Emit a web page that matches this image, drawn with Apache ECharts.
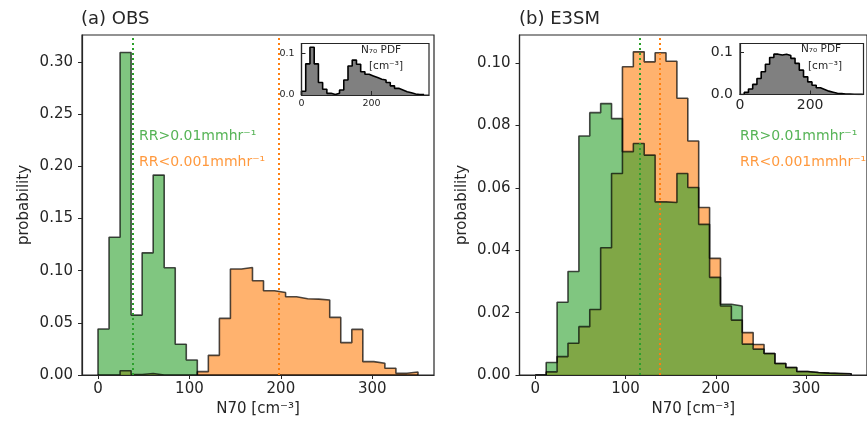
<!DOCTYPE html>
<html>
<head>
<meta charset="utf-8">
<script src="https://cdn.jsdelivr.net/npm/echarts@6/dist/echarts.min.js"></script>
<style>
  html, body { margin: 0; padding: 0; background: #fff; }
  #chart { width: 867px; height: 430px; }
</style>
</head>
<body>
<div id="chart"></div>
<script>
// bin edges shared by every histogram (29 bins, 0..350 cm-3)
var binEdges = [0, 12.07, 24.14, 36.21, 48.28, 60.34, 72.41, 84.48, 96.55, 108.62,
                120.69, 132.76, 144.83, 156.9, 168.97, 181.03, 193.1, 205.17, 217.24, 229.31,
                241.38, 253.45, 265.52, 277.59, 289.66, 301.72, 313.79, 325.86, 337.93, 350];

// (a) OBS
var obsRain = [0.044, 0.132, 0.309, 0.0574, 0.117, 0.1915, 0.1027, 0.0294, 0.0144, 0,
               0, 0, 0, 0, 0, 0, 0, 0, 0, 0,
               0, 0, 0, 0, 0, 0, 0, 0, 0];
var obsDry = [0, 0, 0.004, 0.0005, 0.0015, 0, 0, 0, 0, 0.0032,
              0.0188, 0.0542, 0.1015, 0.103, 0.0903, 0.0807, 0.0791, 0.075, 0.0731, 0.0727,
              0.0718, 0.0552, 0.031, 0.0437, 0.0128, 0.0112, 0.0064, 0.0016, 0.0029];
var obsAll = [0.009, 0.075, 0.115, 0.075, 0.03, 0.014, 0.004, 0.001, 0.004, 0.012,
              0.036, 0.07, 0.084, 0.074, 0.056, 0.05, 0.046, 0.042, 0.038, 0.036,
              0.03, 0.022, 0.016, 0.012, 0.008, 0.0055, 0.0025, 0.001, 0.001];
var obsMeans = [37.6, 198];

// (b) E3SM
var e3smRain = [0, 0.004, 0.0233, 0.0332, 0.0766, 0.0841, 0.087, 0.0822, 0.0716, 0.0742,
                0.0705, 0.0555, 0.0553, 0.0646, 0.0601, 0.0483, 0.0313, 0.0227, 0.0221, 0.0099,
                0.0083, 0.0069, 0.0037, 0.0024, 0.0011, 0.0008, 0.0006, 0.0005, 0.0004];
var e3smDry = [0, 0.001, 0.0059, 0.0102, 0.0155, 0.021, 0.0408, 0.0646, 0.0988, 0.1036,
               0.1004, 0.1033, 0.1006, 0.0887, 0.075, 0.0537, 0.0374, 0.0221, 0.0176, 0.0136,
               0.0098, 0.0069, 0.0037, 0.0024, 0.0011, 0.0008, 0.0006, 0.0005, 0.0004];
var e3smAll = [0, 0.005, 0.013, 0.024, 0.038, 0.054, 0.072, 0.088, 0.096, 0.094,
               0.096, 0.093, 0.086, 0.074, 0.058, 0.042, 0.03, 0.022, 0.016, 0.012,
               0.008, 0.0055, 0.003, 0.002, 0.001, 0.0008, 0.0005, 0.0003, 0.0002];
var e3smMeans = [115.3, 137.8];

var mainTicksX = [0, 100, 200, 300];
var obsTicksY = [0, 0.05, 0.10, 0.15, 0.20, 0.25, 0.30];
var e3smTicksY = [0, 0.02, 0.04, 0.06, 0.08, 0.10];
var insetTicksX = [0, 200];
var insetTicksY = [0, 0.1];

var ink = '#262626';
var green = '#2ca02c';
var orange = '#ff7f0e';
var font = 'DejaVu Sans';

function stepData(vals) {
  var d = [[binEdges[0], 0]];
  for (var i = 0; i < vals.length; i++) d.push([binEdges[i], vals[i]]);
  d.push([binEdges[vals.length], vals[vals.length - 1]]);
  d.push([binEdges[vals.length], 0]);
  return d;
}

function hist(vals, idx, fill, edge) {
  return {
    type: 'line', xAxisIndex: idx, yAxisIndex: idx, step: 'end',
    data: stepData(vals), showSymbol: false, silent: true,
    lineStyle: { color: edge, width: 1.6 },
    areaStyle: { color: fill, opacity: 1 }
  };
}

function vline(x, idx, color) {
  return {
    type: 'line', xAxisIndex: idx, yAxisIndex: idx, data: [], z: 5,
    markLine: {
      silent: true, symbol: 'none', label: { show: false },
      lineStyle: { color: color, width: 2, type: [2, 3] },
      data: [{ xAxis: x }]
    }
  };
}

function mainX(idx) {
  return {
    gridIndex: idx, type: 'value', min: -17.5, max: 367.5, z: 10,
    axisLine: { onZero: false, lineStyle: { color: ink, width: 1.2 } },
    axisTick: { customValues: mainTicksX, length: 4, lineStyle: { color: ink } },
    axisLabel: { customValues: mainTicksX, color: ink, fontSize: 15, fontFamily: font, margin: 7 },
    splitLine: { show: false },
    name: 'N70 [cm\u207b\u00b3]', nameLocation: 'middle', nameGap: 27,
    nameTextStyle: { color: ink, fontSize: 15, fontFamily: font }
  };
}

function mainY(idx, max, ticks) {
  return {
    gridIndex: idx, type: 'value', min: 0, max: max, z: 10,
    axisLine: { show: true, onZero: false, lineStyle: { color: ink, width: 1.2 } },
    axisTick: { show: true, customValues: ticks, length: 4, lineStyle: { color: ink } },
    axisLabel: { customValues: ticks, color: ink, fontSize: 15, fontFamily: font, margin: 9,
                 formatter: function(v) { return v.toFixed(2); } },
    splitLine: { show: false },
    name: 'probability', nameLocation: 'middle', nameGap: 50,
    nameTextStyle: { color: ink, fontSize: 15, fontFamily: font }
  };
}

function insetX(idx, max, size) {
  return {
    gridIndex: idx, type: 'value', min: 0, max: max, z: 10,
    axisLine: { onZero: false, lineStyle: { color: ink, width: 1.2 } },
    axisTick: { customValues: insetTicksX, inside: true, length: 4, lineStyle: { color: ink } },
    axisLabel: { customValues: insetTicksX, color: ink, fontSize: size, fontFamily: font, margin: 4 },
    splitLine: { show: false }
  };
}

function insetY(idx, max, size) {
  return {
    gridIndex: idx, type: 'value', min: 0, max: max, z: 10,
    axisLine: { show: true, onZero: false, lineStyle: { color: ink, width: 1.2 } },
    axisTick: { show: true, customValues: insetTicksY, inside: true, length: 4, lineStyle: { color: ink } },
    axisLabel: { customValues: insetTicksY, color: ink, fontSize: size, fontFamily: font, margin: 7,
                 formatter: function(v) { return v.toFixed(1); } },
    splitLine: { show: false }
  };
}

var chart = echarts.init(document.getElementById('chart'), null, { renderer: 'canvas' });
var box = { show: true, borderColor: ink, borderWidth: 1.2, backgroundColor: 'transparent' };
chart.setOption({
  animation: false,
  backgroundColor: '#fff',
  textStyle: { fontFamily: font },
  title: [
    { text: '(a) OBS', left: 81, top: 10, padding: 0, textStyle: { color: ink, fontSize: 18, fontWeight: 'normal', fontFamily: font } },
    { text: '(b) E3SM', left: 519, top: 10, padding: 0, textStyle: { color: ink, fontSize: 18, fontWeight: 'normal', fontFamily: font } }
  ],
  grid: [
    Object.assign({ left: 82, top: 35, width: 352, height: 340 }, box),
    Object.assign({ left: 519.5, top: 35, width: 354, height: 340 }, box),
    Object.assign({}, box, { left: 301.5, top: 43.5, width: 127.5, height: 51.5, backgroundColor: '#fff' }),
    Object.assign({}, box, { left: 740, top: 43.5, width: 123.5, height: 51, backgroundColor: '#fff' })
  ],
  xAxis: [mainX(0), mainX(1), insetX(2, 364, 9.5), insetX(3, 352, 14)],
  yAxis: [mainY(0, 0.3257, obsTicksY), mainY(1, 0.109, e3smTicksY),
          insetY(2, 0.124, 9.5), insetY(3, 0.1214, 14)],
  graphic: [
    { type: 'text', left: 139, top: 129, z: 20, style: { text: 'RR>0.01mmhr\u207b\u00b9', fill: green, opacity: 0.8, fontSize: 14, fontFamily: font } },
    { type: 'text', left: 139, top: 155, z: 20, style: { text: 'RR<0.001mmhr\u207b\u00b9', fill: orange, opacity: 0.8, fontSize: 14, fontFamily: font } },
    { type: 'text', left: 740, top: 129, z: 20, style: { text: 'RR>0.01mmhr\u207b\u00b9', fill: green, opacity: 0.8, fontSize: 14, fontFamily: font } },
    { type: 'text', left: 740, top: 155, z: 20, style: { text: 'RR<0.001mmhr\u207b\u00b9', fill: orange, opacity: 0.8, fontSize: 14, fontFamily: font } },
    { type: 'text', x: 381, y: 50, z: 20, style: { text: 'N\u2087\u2080 PDF', fill: ink, fontSize: 10.5, fontFamily: font, align: 'center', verticalAlign: 'middle' } },
    { type: 'text', x: 386, y: 66, z: 20, style: { text: '[cm\u207b\u00b3]', fill: ink, fontSize: 10.5, fontFamily: font, align: 'center', verticalAlign: 'middle' } },
    { type: 'text', x: 821, y: 49, z: 20, style: { text: 'N\u2087\u2080 PDF', fill: ink, fontSize: 10.5, fontFamily: font, align: 'center', verticalAlign: 'middle' } },
    { type: 'text', x: 825, y: 66, z: 20, style: { text: '[cm\u207b\u00b3]', fill: ink, fontSize: 10.5, fontFamily: font, align: 'center', verticalAlign: 'middle' } }
  ],
  series: [
    hist(obsDry, 0, 'rgba(255,127,14,0.6)', 'rgba(0,0,0,0.7)'),
    hist(obsRain, 0, 'rgba(44,160,44,0.6)', 'rgba(0,0,0,0.7)'),
    vline(obsMeans[0], 0, green),
    vline(obsMeans[1], 0, orange),
    hist(e3smDry, 1, 'rgba(255,127,14,0.6)', 'rgba(0,0,0,0.7)'),
    hist(e3smRain, 1, 'rgba(44,160,44,0.6)', 'rgba(0,0,0,0.7)'),
    vline(e3smMeans[0], 1, green),
    vline(e3smMeans[1], 1, orange),
    hist(obsAll, 2, '#808080', '#000'),
    hist(e3smAll, 3, '#808080', '#000')
  ]
});
window.addEventListener('resize', function() { chart.resize(); });
</script>
</body>
</html>
